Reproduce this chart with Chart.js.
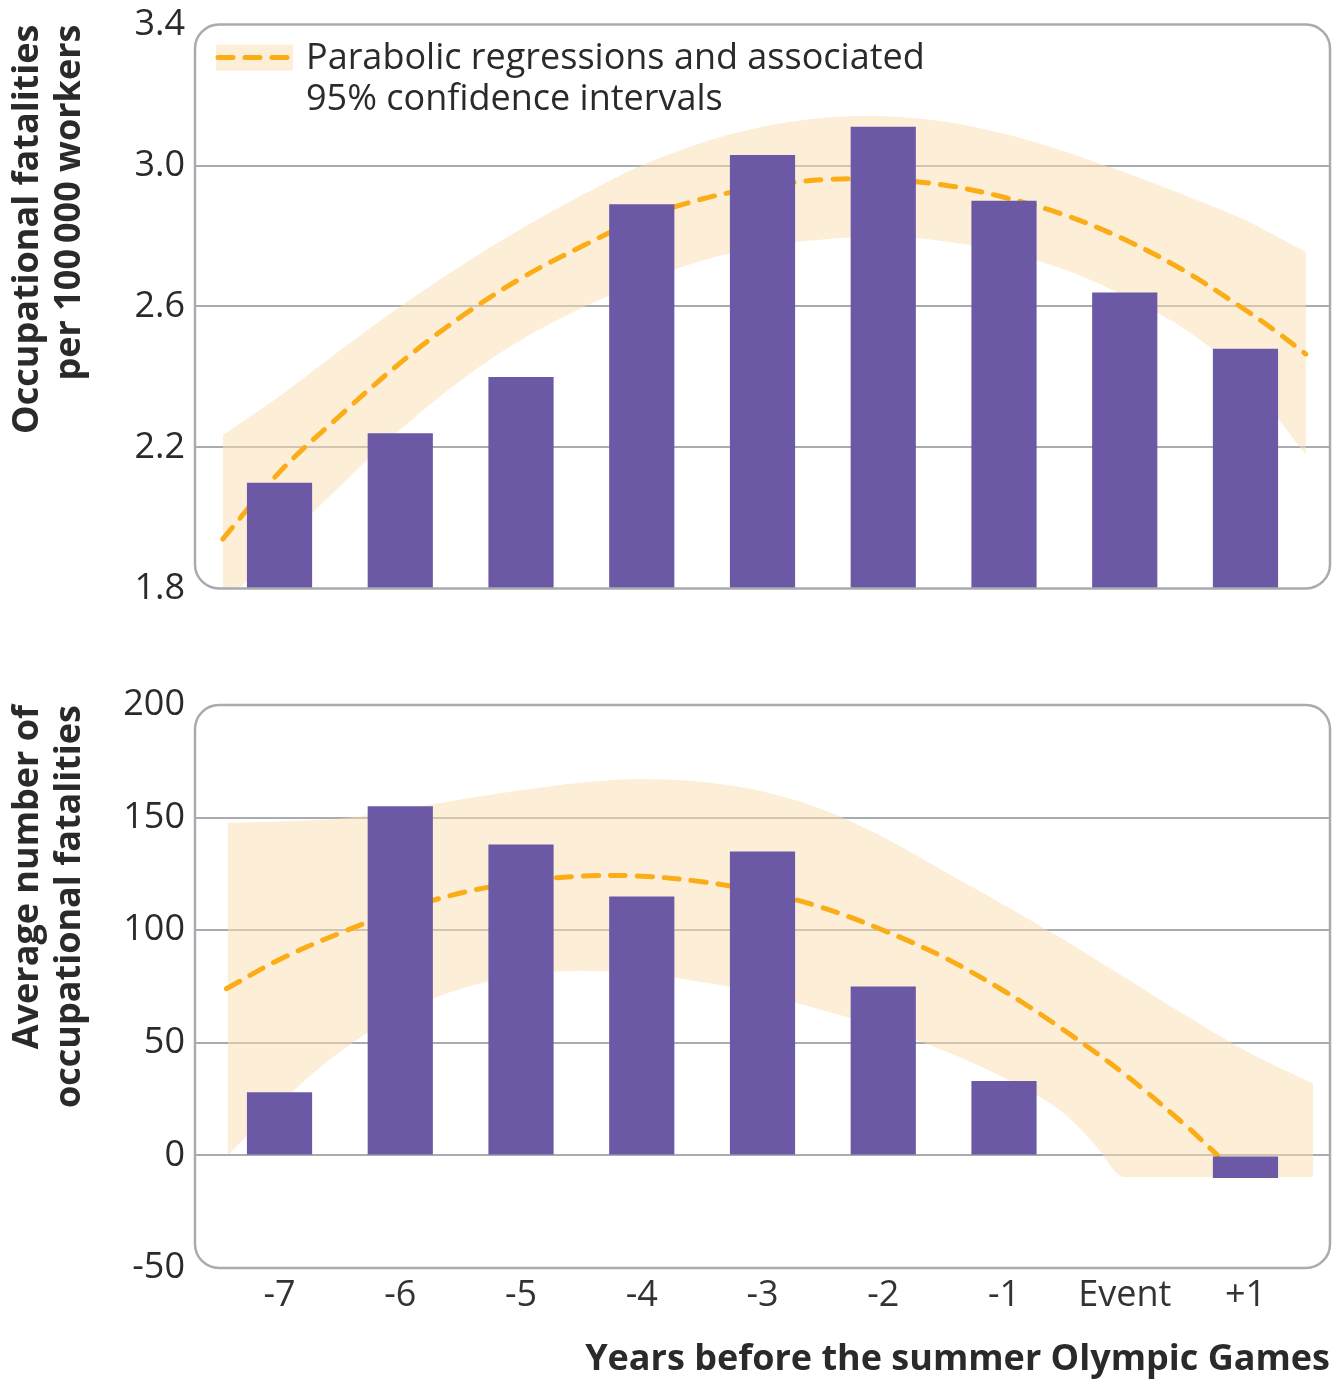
<!DOCTYPE html>
<html>
<head>
<meta charset="utf-8">
<script src="https://cdn.jsdelivr.net/npm/chart.js@4.4.1/dist/chart.umd.min.js"></script>
<style>
    body { margin: 0; background: #ffffff; overflow: hidden; }
    .panel { position: absolute; left: 0; }
    #ratePanel { top: -7px; }
    #countPanel { top: 640px; }
</style>
</head>
<body>
<div class="panel" id="ratePanel"><canvas id="rateChart" width="1342" height="627"></canvas></div>
<div class="panel" id="countPanel"><canvas id="countChart" width="1342" height="741"></canvas></div>
<script>
// Categories and tick labels
const categories = ['-7', '-6', '-5', '-4', '-3', '-2', '-1', 'Event', '+1'];
const rateTicks = [1.8, 2.2, 2.6, 3.0, 3.4];
const countTicks = [-50, 0, 50, 100, 150, 200];

// Bar values
const rateBars = [2.10, 2.24, 2.40, 2.89, 3.03, 3.11, 2.90, 2.64, 2.48];
const countBars = [28, 155, 138, 115, 135, 75, 33, null, -10];

// Fitted parabola and 95% CI, sampled along the x axis (0 = first category)
const rateCurveX = [-0.47, 0, 0.5, 1, 1.5, 2, 2.5, 3, 3.5, 4, 4.5, 5, 5.5, 6, 6.5, 7, 7.5, 8, 8.25, 8.5];
const rateFit = [1.94, 2.13, 2.29, 2.44, 2.57, 2.68, 2.77, 2.85, 2.905, 2.94, 2.96, 2.96, 2.945, 2.91, 2.86, 2.79, 2.70, 2.59, 2.53, 2.465];
const rateUpper = [2.235, 2.345, 2.475, 2.60, 2.715, 2.82, 2.915, 3.00, 3.065, 3.11, 3.135, 3.14, 3.125, 3.09, 3.04, 2.98, 2.915, 2.845, 2.80, 2.755];
const rateLower = [1.75, 1.92, 2.09, 2.25, 2.39, 2.505, 2.595, 2.67, 2.73, 2.77, 2.79, 2.80, 2.785, 2.755, 2.705, 2.63, 2.535, 2.40, 2.29, 2.18];

const countBandX = [-0.43, 0, 0.5, 1, 1.5, 2, 2.5, 3, 3.5, 4, 4.5, 5, 5.5, 6, 6.5, 6.75, 7, 7.5, 8, 8.56];
const countUpper = [147.6, 148.3, 149.6, 153.3, 158.0, 162.1, 165.5, 167.0, 165.8, 161.6, 153.5, 141.3, 126.3, 111.2, 95.6, 87.3, 79.0, 62.3, 46.5, 31.8];
const countLower = [0, 23, 46, 63, 74, 80, 82, 80.7, 77, 71.8, 64.4, 56.5, 46.6, 34.5, 18.5, 5, -9.6, -9.6, -9.6, -9.6];
const countFitX = [-0.44, 0, 0.5, 1, 1.5, 2, 2.5, 3, 3.5, 4, 4.5, 5, 5.5, 6, 6.5, 7, 7.5, 7.77];
const countFit = [74, 87, 98.7, 108.8, 116.5, 121.5, 124, 124, 121.5, 117, 110, 100, 88, 73, 55.5, 36, 13.5, 0];

// Colours
const BAR_COLOR = '#6b59a6';
const BAND_COLOR = 'rgba(252, 222, 176, 0.5)';
const FIT_COLOR = '#fbad18';
const GRID_COLOR = '#a8abb0';
const TEXT_COLOR = '#2a2a2a';
const FONT = "'Open Sans', 'Noto Sans', sans-serif";

// Pair x positions with values
function zip(xs, ys) {
    return xs.map((x, i) => ({ x: x, y: ys[i] }));
}

// Rounded frame around the plot area
const panelBox = {
    id: 'panelBox',
    afterDatasetsDraw(chart) {
        const { ctx, chartArea: a } = chart;
        ctx.save();
        ctx.strokeStyle = GRID_COLOR;
        ctx.lineWidth = 2.5;
        ctx.beginPath();
        ctx.roundRect(a.left, a.top, a.width, a.height, 24);
        ctx.stroke();
        ctx.restore();
    }
};

// Legend drawn inside the top panel
const fitLegend = {
    id: 'fitLegend',
    afterDraw(chart) {
        const { ctx, chartArea: a } = chart;
        const x = a.left + 21;
        const y = a.top + 20;
        ctx.save();
        ctx.fillStyle = BAND_COLOR;
        ctx.fillRect(x, y, 77, 26);
        ctx.strokeStyle = FIT_COLOR;
        ctx.lineWidth = 5;
        ctx.lineCap = 'round';
        ctx.setLineDash([15, 12]);
        ctx.beginPath();
        ctx.moveTo(x + 2, y + 13);
        ctx.lineTo(x + 78, y + 13);
        ctx.stroke();
        ctx.fillStyle = TEXT_COLOR;
        ctx.font = `36px ${FONT}`;
        ctx.textBaseline = 'middle';
        ctx.fillText('Parabolic regressions and associated', x + 90, y + 14);
        ctx.fillText('95% confidence intervals', x + 90, y + 55);
        ctx.restore();
    }
};

// Shared dataset list for one panel
function buildDatasets(bars, fitX, fit, bandX, upper, lower, lowerMode) {
    return [
        {
            type: 'bar',
            data: zip(categories.map((c, i) => i), bars),
            backgroundColor: BAR_COLOR,
            borderWidth: 0,
            barPercentage: 0.54,
            categoryPercentage: 1,
            order: 0
        },
        {
            type: 'line',
            data: zip(fitX, fit),
            borderColor: FIT_COLOR,
            borderWidth: 5,
            borderDash: [15, 12],
            borderCapStyle: 'round',
            tension: 0.35,
            pointRadius: 0,
            fill: false,
            order: 1
        },
        {
            type: 'line',
            data: zip(bandX, upper),
            borderWidth: 0,
            borderColor: 'transparent',
            backgroundColor: BAND_COLOR,
            tension: 0.35,
            pointRadius: 0,
            fill: '+1',
            order: 2
        },
        {
            type: 'line',
            data: zip(bandX, lower),
            borderWidth: 0,
            borderColor: 'transparent',
            tension: 0.35,
            cubicInterpolationMode: lowerMode,
            pointRadius: 0,
            fill: false,
            order: 3
        }
    ];
}

// Y axis options for one panel
function yAxis(ticks, title, decimals) {
    return {
        type: 'linear',
        min: ticks[0],
        max: ticks[ticks.length - 1],
        afterBuildTicks: scale => { scale.ticks = ticks.map(v => ({ value: v })); },
        afterFit: scale => { scale.width = 195; },
        border: { display: false },
        grid: {
            drawTicks: false,
            lineWidth: 2,
            color: ctx => (ctx.index === 0 || ctx.index === ticks.length - 1) ? 'transparent' : GRID_COLOR
        },
        ticks: {
            padding: 10,
            color: TEXT_COLOR,
            font: { family: FONT, size: 36 },
            callback: value => value.toFixed(decimals)
        },
        title: {
            display: true,
            text: title,
            align: 'end',
            color: TEXT_COLOR,
            font: { family: FONT, size: 36, weight: 'bold', lineHeight: 1.17 },
            padding: { top: 7, bottom: 0 }
        }
    };
}

// X axis options (labels only on the lower panel)
function xAxis(showLabels) {
    return {
        type: 'linear',
        min: -0.7,
        max: 8.7,
        offset: false,
        display: showLabels,
        afterBuildTicks: scale => { scale.ticks = categories.map((c, i) => ({ value: i })); },
        afterFit: scale => { if (showLabels) scale.height = 113; },
        border: { display: false },
        grid: { display: false, drawTicks: false },
        ticks: {
            padding: 6,
            color: '#333333',
            font: { family: FONT, size: 36 },
            callback: value => categories[value]
        },
        title: {
            display: showLabels,
            text: 'Years before the summer Olympic Games',
            align: 'end',
            color: TEXT_COLOR,
            font: { family: FONT, size: 36, weight: 'bold' },
            padding: { top: 4, bottom: 0 }
        }
    };
}

function makeChart(canvasId, datasets, scales, padding, plugins) {
    const ctx = document.getElementById(canvasId).getContext('2d');
    return new Chart(ctx, {
        type: 'bar',
        data: { datasets: datasets },
        options: {
            responsive: false,
            animation: false,
            layout: { padding: padding },
            plugins: {
                legend: { display: false },
                tooltip: { enabled: false }
            },
            scales: scales
        },
        plugins: plugins
    });
}

// Top panel: fatality rate
const rateChart = makeChart(
    'rateChart',
    buildDatasets(rateBars, rateCurveX, rateFit, rateCurveX, rateUpper, rateLower, 'default'),
    {
        x: xAxis(false),
        y: yAxis(rateTicks, ['Occupational fatalities', 'per 100\u2009000 workers'], 1)
    },
    { top: 0, right: 12, bottom: 0, left: 0 },
    [panelBox, fitLegend]
);

// Bottom panel: average number of fatalities
const countChart = makeChart(
    'countChart',
    buildDatasets(countBars, countFitX, countFit, countBandX, countUpper, countLower, 'monotone'),
    {
        x: xAxis(true),
        y: yAxis(countTicks, ['Average number of', 'occupational fatalities'], 0)
    },
    { top: 65, right: 12, bottom: 0, left: 0 },
    [panelBox]
);
</script>
</body>
</html>
